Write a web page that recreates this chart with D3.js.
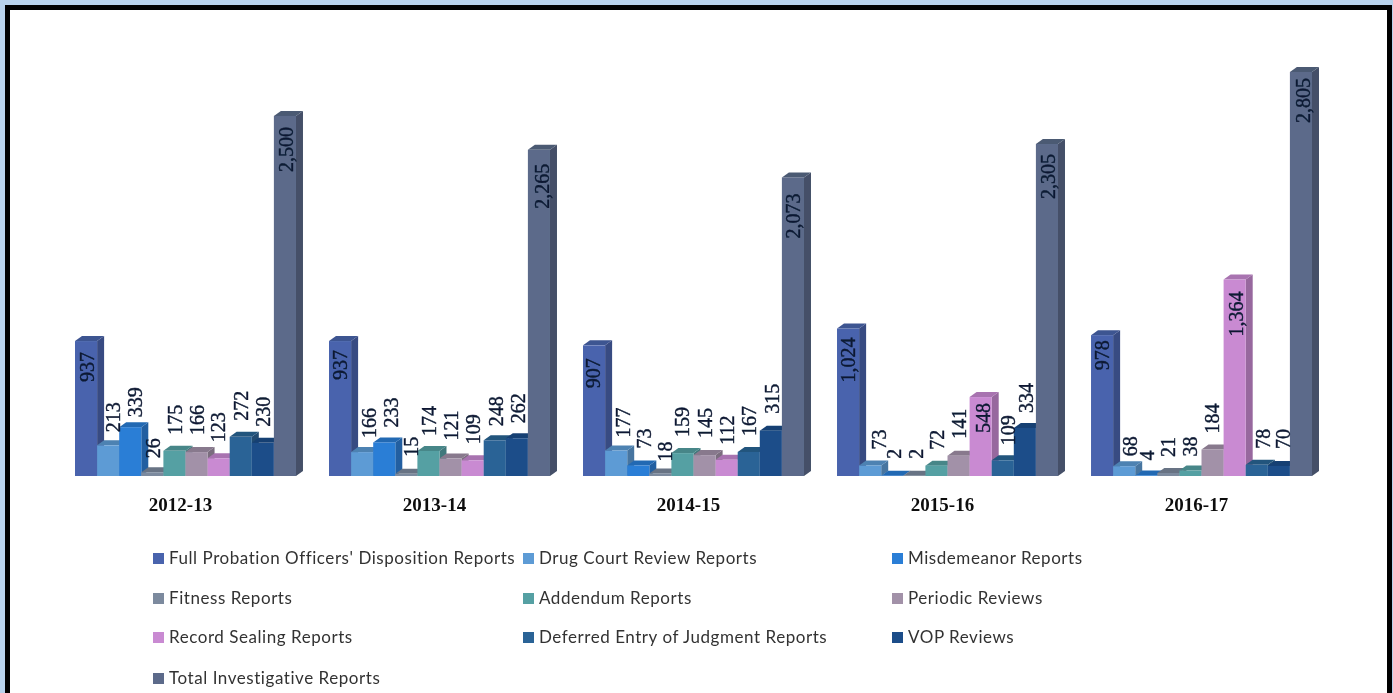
<!DOCTYPE html>
<html>
<head>
<meta charset="utf-8">
<script src="https://cdn.jsdelivr.net/npm/d3@7"></script>
<style>
	html, body { margin: 0; padding: 0; background: #b8d2ec; }
	svg { display: block; }
</style>
</head>
<body>
<script>
// data
const years = ["2012-13", "2013-14", "2014-15", "2015-16", "2016-17"];
const seriesNames = ["Full Probation Officers' Disposition Reports", "Drug Court Review Reports", "Misdemeanor Reports",
	"Fitness Reports", "Addendum Reports", "Periodic Reviews",
	"Record Sealing Reports", "Deferred Entry of Judgment Reports", "VOP Reviews",
	"Total Investigative Reports"];
const seriesColors = ["#4a64ad", "#5d9bd5", "#2b7ed6", "#7b8a9e", "#55a0a3", "#a291a8", "#c98ad2", "#2b6496", "#1b4d89", "#5b6b8a"];
const full = [937, 937, 907, 1024, 978];
const drugCourt = [213, 166, 177, 73, 68];
const misdemeanor = [339, 233, 73, 2, 4];
const fitness = [26, 15, 18, 2, 21];
const addendum = [175, 174, 159, 72, 38];
const periodic = [166, 121, 145, 141, 184];
const sealing = [123, 109, 112, 548, 1364];
const deferred = [272, 248, 167, 109, 78];
const vop = [230, 262, 315, 334, 70];
const total = [2500, 2265, 2073, 2305, 2805];
const allSeries = [full, drugCourt, misdemeanor, fitness, addendum, periodic, sealing, deferred, vop, total];

// label nudges, [group][series]
const labelDx = [
	[1, 5, 5, 1, 1, 1, 0, 0, 0, 1],
	[0, 7, 7, 5, 1, 1, 1, 1, 1, 3],
	[-1, 7, 6, 5, 0, 1, 1, 0, 1, 0],
	[0, 9, 2, 2, 1, 1, 3, 5, 1, 1],
	[0, 6, 1, 0, 0, 0, 2, 6, 4, 2]
];
// gap above the bar top, negative means the label sits inside the bar
const labelGap = [
	[-11, 13, 10, 14, 16, 17, 16, 16, 16, -11],
	[-9, 14, 15, 17, 15, 18, 16, 14, 15, -14],
	[-13, 13, 17, 12, 16, 17, 15, 16, 17, -16],
	[-9, 16, 17, 17, 16, 17, -6, 15, 15, -10],
	[-5, 10, 15, 16, 14, 16, -12, 16, 17, -6]
];

const width = 1393, height = 693, depthX = 7, depthY = 5;

const svg = d3.select("body").append("svg").attr("width", width).attr("height", height);

// the source picture is a soft screenshot
svg.append("defs").append("filter").attr("id", "soft")
	.append("feGaussianBlur").attr("stdDeviation", 0.45);

// frame
svg.append("rect").attr("x", 5).attr("y", 5).attr("width", 1387).attr("height", 688).attr("fill", "#000");
svg.append("rect").attr("x", 10).attr("y", 10).attr("width", 1377).attr("height", 683).attr("fill", "#fff");

const chart = svg.append("g").attr("filter", "url(#soft)");

const xGroup = d3.scaleBand().domain(years).range([75, 1312]).paddingInner(0.13);
const xBar = d3.scaleBand().domain(d3.range(seriesNames.length)).range([0, xGroup.bandwidth()]);
const y = d3.scaleLinear().domain([0, 2805]).range([476, 72]);

years.forEach((year, g) => {
	const group = chart.append("g").attr("transform", "translate(" + xGroup(year) + ",0)");
	const w = xBar.bandwidth();

	allSeries.forEach((vals, s) => {
		const x0 = xBar(s), x1 = x0 + w, top = y(vals[g]), base = y(0);
		const col = d3.color(seriesColors[s]);
		// side
		group.append("polygon")
			.attr("points", [[x1, top], [x1 + depthX, top - depthY], [x1 + depthX, base - depthY], [x1, base]].join(" "))
			.attr("fill", col.darker(0.8));
		// top
		group.append("polygon")
			.attr("points", [[x0, top], [x0 + depthX, top - depthY], [x1 + depthX, top - depthY], [x1, top]].join(" "))
			.attr("fill", col.darker(0.5));
		// front
		group.append("rect")
			.attr("x", x0).attr("y", top).attr("width", w).attr("height", base - top)
			.attr("fill", col);
	});

	// value labels go on top of all the bars
	allSeries.forEach((vals, s) => {
		const lx = xBar(s) + xBar.bandwidth() / 2 + labelDx[g][s],
			  ly = y(vals[g]) - labelGap[g][s];
		group.append("text")
			.attr("class", "value")
			.attr("transform", "translate(" + lx + "," + ly + ") rotate(-90)")
			.attr("text-anchor", labelGap[g][s] < 0 ? "end" : "start")
			.attr("dy", "0.34em")
			.attr("font-family", "'Liberation Serif'")
			.attr("font-size", 20)
			.attr("fill", "#0b1a33")
			.attr("stroke", "#0b1a33")
			.attr("stroke-width", 0.4)
			.text(d3.format(",")(vals[g]));
	});
});

// category axis
const axis = chart.append("g")
	.attr("transform", "translate(-5,497)")
	.call(d3.axisBottom(xGroup).tickSize(0).tickPadding(0));
axis.select(".domain").remove();
axis.selectAll("text")
	.attr("font-family", "'Liberation Serif'")
	.attr("font-weight", "bold")
	.attr("font-size", 19)
	.attr("fill", "#111");

// legend
const legendX = [153, 523, 892], legendY = [558, 598, 637, 678];
const legend = chart.selectAll("g.legend")
	.data(seriesNames)
	.enter()
	.append("g")
	.attr("class", "legend")
	.attr("transform", (d, i) => "translate(" + legendX[i % 3] + "," + legendY[Math.floor(i / 3)] + ")");
legend.append("rect")
	.attr("x", 0).attr("y", -5).attr("width", 11).attr("height", 11)
	.attr("fill", (d, i) => seriesColors[i]);
legend.append("text")
	.attr("x", 16).attr("dy", "0.35em")
	.attr("font-family", "Lato")
	.attr("font-size", 17)
	.attr("letter-spacing", 0.55)
	.attr("fill", "#333")
	.text(d => d);
</script>
</body>
</html>
